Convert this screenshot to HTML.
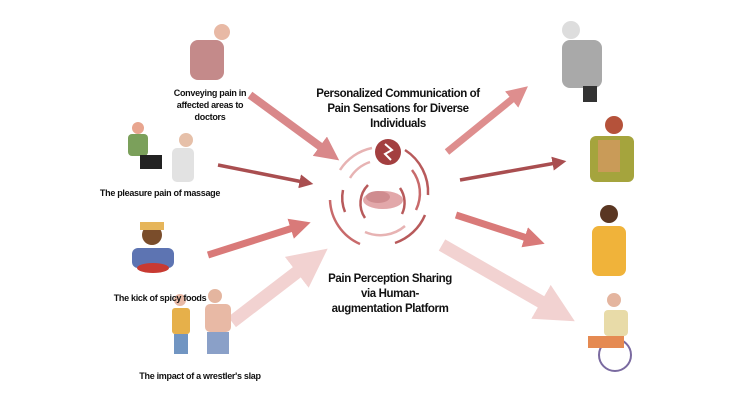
<!DOCTYPE html>
<html><head><meta charset="utf-8"><style>
body{margin:0;background:#fff;width:753px;height:408px;overflow:hidden;font-family:"Liberation Sans",sans-serif}
.t{position:absolute;font-weight:bold;color:#111;text-align:center;font-size:9px;line-height:12px;letter-spacing:-0.3px;white-space:nowrap}
.c{font-size:11.5px;line-height:15px;letter-spacing:-0.4px}
</style></head><body>
<svg width="753" height="408" style="position:absolute;left:0;top:0">
<defs>
<marker id="h" markerWidth="3" markerHeight="3" refX="0.8" refY="1.5" orient="auto"><path d="M0,0L3,1.5L0,3z" fill="context-stroke"/></marker>
<marker id="s" markerWidth="4" markerHeight="4" refX="1" refY="2" orient="auto"><path d="M0,0L4,2L0,4z" fill="context-stroke"/></marker>
</defs>
<g fill="none" stroke-linecap="butt">
<line x1="250" y1="95" x2="325" y2="150" stroke="#d9888a" stroke-width="8" marker-end="url(#h)"/>
<line x1="218" y1="165" x2="303" y2="182" stroke="#a94e50" stroke-width="3.5" marker-end="url(#s)"/>
<line x1="208" y1="255" x2="296" y2="227" stroke="#d97a79" stroke-width="7" marker-end="url(#h)"/>
<line x1="232" y1="322" x2="305" y2="266" stroke="#f2d2d1" stroke-width="13" marker-end="url(#h)"/>
<line x1="447" y1="152" x2="516" y2="96" stroke="#de8e8e" stroke-width="7" marker-end="url(#h)"/>
<line x1="460" y1="180" x2="556" y2="163" stroke="#a94e50" stroke-width="3.5" marker-end="url(#s)"/>
<line x1="456" y1="215" x2="530" y2="239" stroke="#d97a79" stroke-width="7" marker-end="url(#h)"/>
<line x1="442" y1="245" x2="550" y2="307" stroke="#f2d2d1" stroke-width="13" marker-end="url(#h)"/>
</g>
<g fill="none" stroke-width="2.5">
<path d="M340 170 A50 50 0 0 1 372 148" stroke="#e7b3b3"/>
<path d="M405 150 A50 50 0 0 1 428 195" stroke="#b85a5b"/>
<path d="M425 215 A50 50 0 0 1 395 243" stroke="#b85a5b"/>
<path d="M360 244 A50 50 0 0 1 330 200" stroke="#c86a6b"/>
<path d="M350 178 A38 38 0 0 1 370 162" stroke="#e7b3b3"/>
<path d="M412 170 A38 38 0 0 1 416 210" stroke="#c86a6b"/>
<path d="M405 226 A38 38 0 0 1 365 232" stroke="#e7b3b3"/>
<path d="M345 212 A38 38 0 0 1 343 190" stroke="#b85a5b"/>
<path d="M368 185 A26 26 0 0 0 365 218" stroke="#b85a5b"/>
<path d="M400 188 A26 26 0 0 1 402 214" stroke="#b85a5b"/>
</g>
<ellipse cx="383" cy="200" rx="20" ry="9" fill="#e2a8aa"/>
<ellipse cx="378" cy="197" rx="12" ry="6" fill="#cf8c8f"/>
<circle cx="388" cy="152" r="13" fill="#a33f40"/>
<path d="M385 144 L392 150 L385 154 L391 160" stroke="#fff" stroke-width="2" fill="none"/>
<circle cx="222" cy="32" r="8" fill="#e8b9a5"/><rect x="190" y="40" width="34" height="40" rx="8" fill="#c48a8a"/>
<circle cx="138" cy="128" r="6" fill="#e8a58f"/><rect x="128" y="134" width="20" height="22" rx="4" fill="#7ba05b"/><rect x="140" y="155" width="22" height="14" fill="#222"/>
<circle cx="186" cy="140" r="7" fill="#e6c0a9"/><rect x="172" y="148" width="22" height="34" rx="5" fill="#e2e2e2"/>
<circle cx="152" cy="235" r="10" fill="#7a4d2b"/><path d="M140 222 h24 v8 h-24z" fill="#e6b55a"/><rect x="132" y="248" width="42" height="20" rx="6" fill="#5d74b2"/><ellipse cx="153" cy="268" rx="16" ry="5" fill="#c83a32"/>
<circle cx="180" cy="300" r="6" fill="#e8b9a5"/><rect x="172" y="308" width="18" height="26" rx="3" fill="#e6b04a"/><rect x="174" y="334" width="14" height="20" fill="#7195c2"/>
<circle cx="215" cy="296" r="7" fill="#e4b59f"/><rect x="205" y="304" width="26" height="28" rx="5" fill="#e8b9a5"/><rect x="207" y="332" width="22" height="22" fill="#8aa0c8"/>
<circle cx="571" cy="30" r="9" fill="#ddd"/><rect x="562" y="40" width="40" height="48" rx="8" fill="#a9a9a9"/><rect x="583" y="86" width="14" height="16" fill="#333"/>
<circle cx="614" cy="125" r="9" fill="#b5523a"/><rect x="590" y="136" width="44" height="46" rx="6" fill="#a5a43d"/><rect x="598" y="140" width="22" height="32" fill="#c99b58"/>
<circle cx="609" cy="214" r="9" fill="#5a3622"/><rect x="592" y="226" width="34" height="50" rx="7" fill="#f0b33a"/>
<circle cx="614" cy="300" r="7" fill="#e4b59f"/><rect x="604" y="310" width="24" height="26" rx="4" fill="#e8dba8"/><circle cx="615" cy="355" r="16" fill="none" stroke="#7a6aa0" stroke-width="2"/><rect x="588" y="336" width="36" height="12" fill="#e58a52"/>
</svg>
<div class="t" style="left:160px;top:87px;width:100px">Conveying pain in<br>affected areas to<br>doctors</div>
<div class="t" style="left:80px;top:187px;width:160px">The pleasure pain of massage</div>
<div class="t" style="left:100px;top:292px;width:120px">The kick of spicy foods</div>
<div class="t" style="left:120px;top:370px;width:160px">The impact of a wrestler's slap</div>
<div class="t c" style="left:300px;top:87px;width:196px">Personalized Communication of<br>Pain Sensations for Diverse<br>Individuals</div>
<div class="t c" style="left:315px;top:272px;width:150px">Pain Perception Sharing<br>via Human-<br>augmentation Platform</div>
</body></html>
